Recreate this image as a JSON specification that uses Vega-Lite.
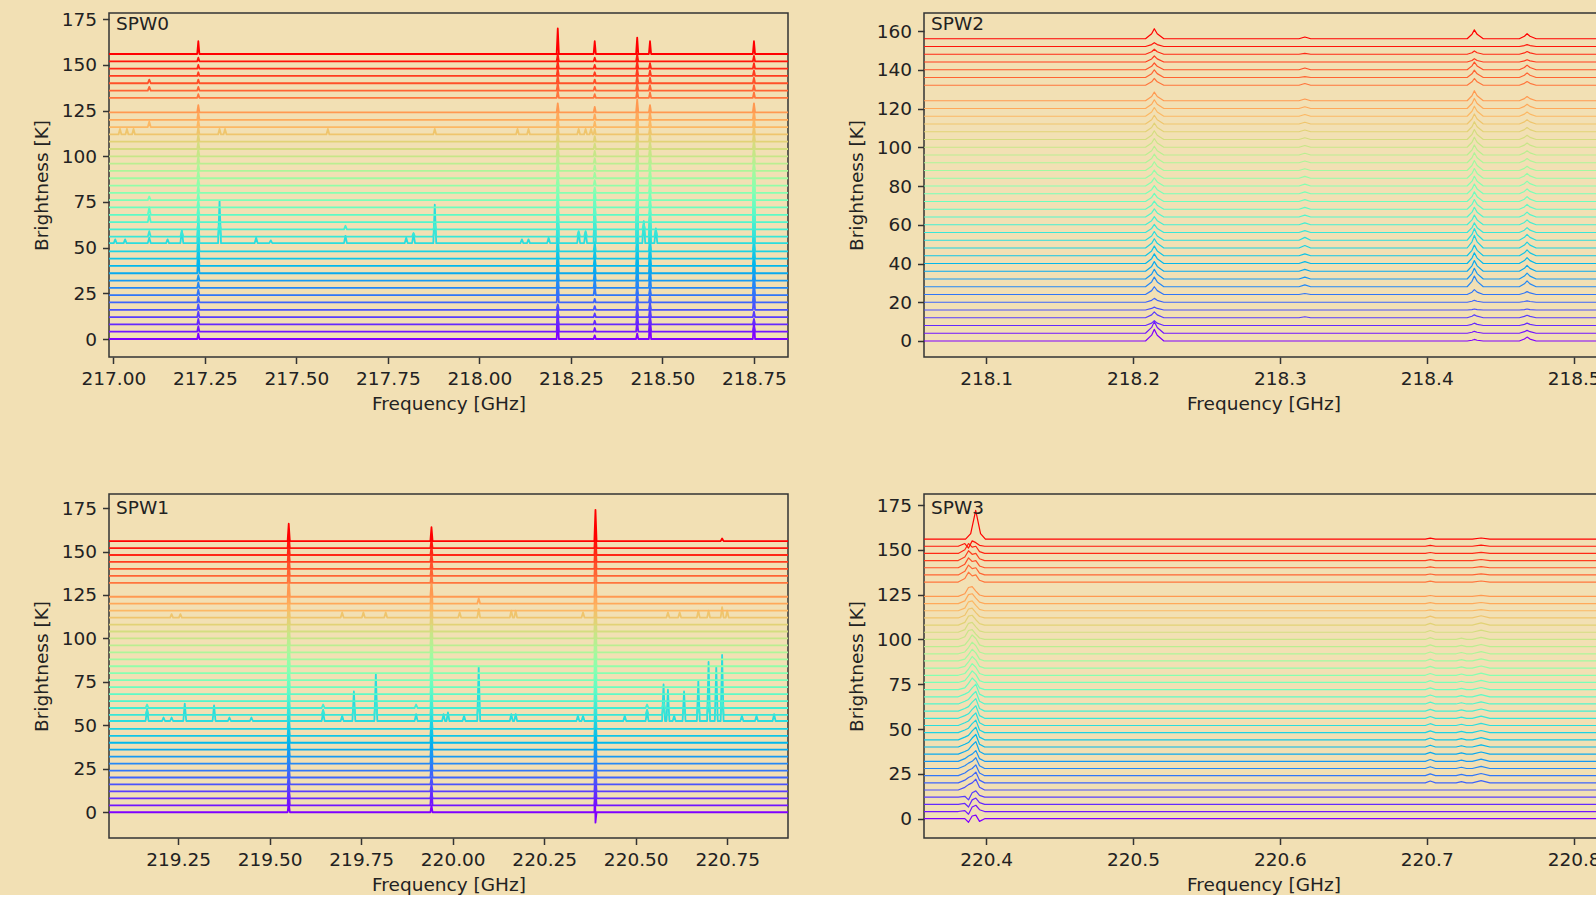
{
"$schema":"https://vega.github.io/schema/vega-lite/v6.json",
"background":"#f2e0b4",
"padding":{"left":31,"top":9,"right":0,"bottom":0},
"config":{
"font":"DejaVu Sans",
"view":{"stroke":"#333333","strokeWidth":1.5},
"axis":{"domain":false,"grid":false,"tickSize":6.5,"tickWidth":1.5,"tickColor":"#333333","labelFont":"DejaVu Sans","labelFontSize":18.5,"labelColor":"#222222","labelPadding":6,"labelOverlap":false,"labelBound":false,"labelFlush":false,"titleFont":"DejaVu Sans","titleFontSize":18.5,"titleFontWeight":"normal","titleColor":"#222222"},
"axisX":{"titlePadding":6},
"axisY":{"titlePadding":10},
"title":{"font":"DejaVu Sans","fontSize":18.5,"fontWeight":"normal","color":"#222222","anchor":"start","frame":"group","baseline":"top","dx":7}
},
"spacing":{"row":79,"column":57},
"columns":2,
"datasets":{
"s0":[
{"f":216.988,"a0":0,"a1":4,"a2":8,"a3":12,"a4":16,"a5":20,"a6":24,"a7":28,"a8":32,"a9":36,"a10":40,"a11":44,"a12":48,"a13":52.5,"a14":56,"a15":60,"a16":64,"a17":68,"a18":72,"a19":76,"a20":80,"a21":84,"a22":88,"a23":92,"a24":96,"a25":100,"a26":104,"a27":108,"a28":112,"a29":116,"a30":120,"a31":124,"a33":132,"a34":136,"a35":140,"a36":144,"a37":148,"a38":152,"a39":156},
{"f":217.229,"a0":0,"a1":4,"a2":8,"a3":12,"a4":16,"a5":20,"a6":24,"a7":28,"a8":32,"a9":36,"a10":40,"a11":44,"a12":48,"a13":52.5,"a14":56,"a15":60,"a16":64,"a17":68,"a18":72,"a19":76,"a20":80,"a21":84,"a22":88,"a23":92,"a24":96,"a25":100,"a26":104,"a27":108,"a28":112,"a29":116,"a30":120,"a31":124,"a33":132,"a34":136,"a35":140,"a36":144,"a37":148,"a38":152,"a39":156},
{"f":217.232,"a0":3,"a1":7,"a2":11,"a3":15,"a4":19,"a5":23,"a6":27,"a7":31,"a8":35,"a9":45,"a10":49,"a11":53,"a12":57,"a13":67.5,"a14":62,"a15":64,"a16":68,"a17":72,"a18":76,"a19":80,"a20":84,"a21":88,"a22":92,"a23":96,"a24":100,"a25":104,"a26":108,"a27":112,"a28":116,"a29":120,"a30":124,"a31":128,"a33":134,"a34":138,"a35":142,"a36":146,"a37":150,"a38":154,"a39":163},
{"f":217.235,"a0":0,"a1":4,"a2":8,"a3":12,"a4":16,"a5":20,"a6":24,"a7":28,"a8":32,"a9":36,"a10":40,"a11":44,"a12":48,"a13":52.5,"a14":56,"a15":60,"a16":64,"a17":68,"a18":72,"a19":76,"a20":80,"a21":84,"a22":88,"a23":92,"a24":96,"a25":100,"a26":104,"a27":108,"a28":112,"a29":116,"a30":120,"a31":124,"a33":132,"a34":136,"a35":140,"a36":144,"a37":148,"a38":152,"a39":156},
{"f":218.211,"a0":0,"a1":4,"a2":8,"a3":12,"a4":16,"a5":20,"a6":24,"a7":28,"a8":32,"a9":36,"a10":40,"a11":44,"a12":48,"a13":52.5,"a14":56,"a15":60,"a16":64,"a17":68,"a18":72,"a19":76,"a20":80,"a21":84,"a22":88,"a23":92,"a24":96,"a25":100,"a26":104,"a27":108,"a28":112,"a29":116,"a30":120,"a31":124,"a33":132,"a34":136,"a35":140,"a36":144,"a37":148,"a38":152,"a39":156},
{"f":218.214,"a0":12,"a1":18,"a2":11,"a3":15,"a4":19,"a5":28,"a6":32,"a7":36,"a8":40,"a9":44,"a10":48,"a11":52,"a12":56,"a13":75.5,"a14":68,"a15":66,"a16":70,"a17":74,"a18":78,"a19":82,"a20":86,"a21":90,"a22":94,"a23":98,"a24":102,"a25":106,"a26":109,"a27":113,"a28":117,"a29":121,"a30":125,"a31":129,"a33":136,"a34":140,"a35":144,"a36":148,"a37":152,"a38":156,"a39":170},
{"f":218.217,"a0":0,"a1":4,"a2":8,"a3":12,"a4":16,"a5":20,"a6":24,"a7":28,"a8":32,"a9":36,"a10":40,"a11":44,"a12":48,"a13":52.5,"a14":56,"a15":60,"a16":64,"a17":68,"a18":72,"a19":76,"a20":80,"a21":84,"a22":88,"a23":92,"a24":96,"a25":100,"a26":104,"a27":108,"a28":112,"a29":116,"a30":120,"a31":124,"a33":132,"a34":136,"a35":140,"a36":144,"a37":148,"a38":152,"a39":156},
{"f":218.312,"a0":0,"a1":4,"a2":8,"a3":12,"a4":16,"a5":20,"a6":24,"a7":28,"a8":32,"a9":36,"a10":40,"a11":44,"a12":48,"a13":52.5,"a14":56,"a15":60,"a16":64,"a17":68,"a18":72,"a19":76,"a20":80,"a21":84,"a22":88,"a23":92,"a24":96,"a25":100,"a26":104,"a27":108,"a28":112,"a29":116,"a30":120,"a31":124,"a33":132,"a34":136,"a35":140,"a36":144,"a37":148,"a38":152,"a39":156},
{"f":218.315,"a0":2,"a1":6,"a2":10,"a3":14,"a4":18,"a5":22,"a6":29,"a7":33,"a8":37,"a9":41,"a10":45,"a11":49,"a12":53,"a13":80.5,"a14":68,"a15":65,"a16":69,"a17":73,"a18":77,"a19":81,"a20":83,"a21":87,"a22":91,"a23":95,"a24":99,"a25":103,"a26":107,"a27":111,"a28":115,"a29":119,"a30":123,"a31":127,"a33":134,"a34":138,"a35":142,"a36":146,"a37":150,"a38":154,"a39":163},
{"f":218.318,"a0":0,"a1":4,"a2":8,"a3":12,"a4":16,"a5":20,"a6":24,"a7":28,"a8":32,"a9":36,"a10":40,"a11":44,"a12":48,"a13":52.5,"a14":56,"a15":60,"a16":64,"a17":68,"a18":72,"a19":76,"a20":80,"a21":84,"a22":88,"a23":92,"a24":96,"a25":100,"a26":104,"a27":108,"a28":112,"a29":116,"a30":120,"a31":124,"a33":132,"a34":136,"a35":140,"a36":144,"a37":148,"a38":152,"a39":156},
{"f":218.428,"a0":0,"a1":4,"a2":8,"a3":12,"a4":16,"a5":20,"a6":24,"a7":28,"a8":32,"a9":36,"a10":40,"a11":44,"a12":48,"a13":52.5,"a14":56,"a15":60,"a16":64,"a17":68,"a18":72,"a19":76,"a20":80,"a21":84,"a22":88,"a23":92,"a24":96,"a25":100,"a26":104,"a27":108,"a28":112,"a29":116,"a30":120,"a31":124,"a33":132,"a34":136,"a35":140,"a36":144,"a37":148,"a38":152,"a39":156},
{"f":218.431,"a0":3,"a1":10,"a2":14,"a3":17,"a4":21,"a5":25,"a6":29,"a7":38,"a8":42,"a9":46,"a10":50,"a11":54,"a12":58,"a13":84.5,"a14":76,"a15":68,"a16":72,"a17":76,"a18":80,"a19":84,"a20":88,"a21":92,"a22":96,"a23":100,"a24":104,"a25":108,"a26":111,"a27":115,"a28":119,"a29":123,"a30":127,"a31":131,"a33":136,"a34":140,"a35":144,"a36":148,"a37":152,"a38":156,"a39":165},
{"f":218.434,"a0":0,"a1":4,"a2":8,"a3":12,"a4":16,"a5":20,"a6":24,"a7":28,"a8":32,"a9":36,"a10":40,"a11":44,"a12":48,"a13":52.5,"a14":56,"a15":60,"a16":64,"a17":68,"a18":72,"a19":76,"a20":80,"a21":84,"a22":88,"a23":92,"a24":96,"a25":100,"a26":104,"a27":108,"a28":112,"a29":116,"a30":120,"a31":124,"a33":132,"a34":136,"a35":140,"a36":144,"a37":148,"a38":152,"a39":156},
{"f":218.463,"a0":0,"a1":4,"a2":8,"a3":12,"a4":16,"a5":20,"a6":24,"a7":28,"a8":32,"a9":36,"a10":40,"a11":44,"a12":48,"a13":52.5,"a14":56,"a15":60,"a16":64,"a17":68,"a18":72,"a19":76,"a20":80,"a21":84,"a22":88,"a23":92,"a24":96,"a25":100,"a26":104,"a27":108,"a28":112,"a29":116,"a30":120,"a31":124,"a33":132,"a34":136,"a35":140,"a36":144,"a37":148,"a38":152,"a39":156},
{"f":218.466,"a0":12,"a1":9,"a2":13,"a3":17,"a4":20,"a5":24,"a6":28,"a7":36,"a8":40,"a9":44,"a10":48,"a11":52,"a12":56,"a13":70.5,"a14":66,"a15":68,"a16":69,"a17":73,"a18":77,"a19":81,"a20":85,"a21":89,"a22":93,"a23":97,"a24":101,"a25":105,"a26":108,"a27":112,"a28":116,"a29":120,"a30":124,"a31":128,"a33":135,"a34":139,"a35":143,"a36":147,"a37":151,"a38":152,"a39":163},
{"f":218.469,"a0":0,"a1":4,"a2":8,"a3":12,"a4":16,"a5":20,"a6":24,"a7":28,"a8":32,"a9":36,"a10":40,"a11":44,"a12":48,"a13":52.5,"a14":56,"a15":60,"a16":64,"a17":68,"a18":72,"a19":76,"a20":80,"a21":84,"a22":88,"a23":92,"a24":96,"a25":100,"a26":104,"a27":108,"a28":112,"a29":116,"a30":120,"a31":124,"a33":132,"a34":136,"a35":140,"a36":144,"a37":148,"a38":152,"a39":156},
{"f":218.747,"a0":0,"a1":4,"a2":8,"a3":12,"a4":16,"a5":20,"a6":24,"a7":28,"a8":32,"a9":36,"a10":40,"a11":44,"a12":48,"a13":52.5,"a14":56,"a15":60,"a16":64,"a17":68,"a18":72,"a19":76,"a20":80,"a21":84,"a22":88,"a23":92,"a24":96,"a25":100,"a26":104,"a27":108,"a28":112,"a29":116,"a30":120,"a31":124,"a33":132,"a34":136,"a35":140,"a36":144,"a37":148,"a38":152,"a39":156},
{"f":218.75,"a0":10,"a1":7,"a2":11,"a3":15,"a4":24,"a5":28,"a6":32,"a7":36,"a8":40,"a9":44,"a10":48,"a11":52,"a12":56,"a13":77.5,"a14":68,"a15":72,"a16":76,"a17":80,"a18":84,"a19":88,"a20":92,"a21":96,"a22":93,"a23":97,"a24":101,"a25":105,"a26":109,"a27":113,"a28":117,"a29":121,"a30":125,"a31":129,"a33":135,"a34":139,"a35":143,"a36":147,"a37":151,"a38":155,"a39":163},
{"f":218.753,"a0":0,"a1":4,"a2":8,"a3":12,"a4":16,"a5":20,"a6":24,"a7":28,"a8":32,"a9":36,"a10":40,"a11":44,"a12":48,"a13":52.5,"a14":56,"a15":60,"a16":64,"a17":68,"a18":72,"a19":76,"a20":80,"a21":84,"a22":88,"a23":92,"a24":96,"a25":100,"a26":104,"a27":108,"a28":112,"a29":116,"a30":120,"a31":124,"a33":132,"a34":136,"a35":140,"a36":144,"a37":148,"a38":152,"a39":156},
{"f":218.843,"a0":0,"a1":4,"a2":8,"a3":12,"a4":16,"a5":20,"a6":24,"a7":28,"a8":32,"a9":36,"a10":40,"a11":44,"a12":48,"a13":52.5,"a14":56,"a15":60,"a16":64,"a17":68,"a18":72,"a19":76,"a20":80,"a21":84,"a22":88,"a23":92,"a24":96,"a25":100,"a26":104,"a27":108,"a28":112,"a29":116,"a30":120,"a31":124,"a33":132,"a34":136,"a35":140,"a36":144,"a37":148,"a38":152,"a39":156},
{"f":217.001,"a13":52.5},{"f":217.005,"a13":54.5},{"f":217.009,"a13":52.5},
{"f":217.014,"a28":112},{"f":217.018,"a28":115},{"f":217.022,"a28":112},
{"f":217.028,"a13":52.5},{"f":217.032,"a13":54.5},{"f":217.036,"a13":52.5},
{"f":217.033,"a28":112},{"f":217.037,"a28":115},{"f":217.041,"a28":112},
{"f":217.051,"a28":112},{"f":217.055,"a28":115},{"f":217.059,"a28":112},
{"f":217.094,"a13":52.5,"a14":56,"a16":64,"a17":68,"a19":76,"a29":116,"a34":136,"a35":140},
{"f":217.098,"a13":55.5,"a14":59,"a16":68,"a17":72,"a19":78,"a29":119,"a34":138,"a35":142},
{"f":217.102,"a13":52.5,"a14":56,"a16":64,"a17":68,"a19":76,"a29":116,"a34":136,"a35":140},
{"f":217.144,"a13":52.5},{"f":217.148,"a13":54.5},{"f":217.152,"a13":52.5},
{"f":217.183,"a13":52.5,"a14":56},{"f":217.187,"a13":59.5,"a14":59},{"f":217.191,"a13":52.5,"a14":56},
{"f":217.286,"a13":52.5,"a14":56,"a15":60,"a28":112},{"f":217.29,"a13":75.5,"a14":62,"a15":63,"a28":115},{"f":217.294,"a13":52.5,"a14":56,"a15":60,"a28":112},
{"f":217.301,"a28":112},{"f":217.305,"a28":115},{"f":217.309,"a28":112},
{"f":217.386,"a13":52.5},{"f":217.39,"a13":55.5},{"f":217.394,"a13":52.5},
{"f":217.426,"a13":52.5},{"f":217.43,"a13":54},{"f":217.434,"a13":52.5},
{"f":217.582,"a28":112},{"f":217.586,"a28":115},{"f":217.59,"a28":112},
{"f":217.63,"a13":52.5,"a15":60},{"f":217.634,"a13":56.5,"a15":62},{"f":217.638,"a13":52.5,"a15":60},
{"f":217.796,"a13":52.5},{"f":217.8,"a13":55.5},{"f":217.804,"a13":52.5},
{"f":217.816,"a13":52.5,"a14":56},{"f":217.82,"a13":57.5,"a14":58},{"f":217.824,"a13":52.5,"a14":56},
{"f":217.874,"a13":52.5,"a14":56,"a15":60,"a28":112},{"f":217.878,"a13":73.5,"a14":61,"a15":63,"a28":115},{"f":217.882,"a13":52.5,"a14":56,"a15":60,"a28":112},
{"f":218.1,"a28":112},{"f":218.104,"a28":115},{"f":218.108,"a28":112},
{"f":218.112,"a13":52.5},{"f":218.116,"a13":54.5},{"f":218.12,"a13":52.5},
{"f":218.13,"a13":52.5,"a28":112},{"f":218.134,"a13":54.5,"a28":115},{"f":218.138,"a13":52.5,"a28":112},
{"f":218.185,"a13":52.5},{"f":218.189,"a13":55.5},{"f":218.193,"a13":52.5},
{"f":218.267,"a13":52.5,"a14":56,"a28":112},{"f":218.271,"a13":58.5,"a14":59,"a28":115},{"f":218.275,"a13":52.5,"a14":56,"a28":112},
{"f":218.286,"a13":52.5,"a14":56,"a28":112},{"f":218.29,"a13":58.5,"a14":59,"a28":115},{"f":218.294,"a13":52.5,"a14":56,"a28":112},
{"f":218.301,"a28":112},{"f":218.305,"a28":115},{"f":218.309,"a28":112},
{"f":218.445,"a13":52.5,"a14":56,"a15":60},{"f":218.449,"a13":64.5,"a14":62,"a15":63},{"f":218.453,"a13":52.5,"a14":56,"a15":60},
{"f":218.478,"a13":52.5,"a14":56},{"f":218.482,"a13":60.5,"a14":60},{"f":218.486,"a13":52.5,"a14":56}
],
"s1":[
{"f":219.061,"a0":0,"a1":4,"a2":8,"a3":12,"a4":16,"a5":20,"a6":24,"a7":28,"a8":32,"a9":36,"a10":40,"a11":44,"a12":48,"a13":52.5,"a14":56,"a15":60,"a16":64,"a17":68,"a18":72,"a19":76,"a20":80,"a21":84,"a22":88,"a23":92,"a24":96,"a25":100,"a26":104,"a27":108,"a28":112,"a29":116,"a30":120,"a31":124,"a33":132,"a34":136,"a35":140,"a36":144,"a37":148,"a38":152,"a39":156},
{"f":219.549,"a0":0,"a1":4,"a2":8,"a3":12,"a4":16,"a5":20,"a6":24,"a7":28,"a8":32,"a9":36,"a10":40,"a11":44,"a12":48,"a13":52.5,"a14":56,"a15":60,"a16":64,"a17":68,"a18":72,"a19":76,"a20":80,"a21":84,"a22":88,"a23":92,"a24":96,"a25":100,"a26":104,"a27":108,"a28":112,"a29":116,"a30":120,"a31":124,"a33":132,"a34":136,"a35":140,"a36":144,"a37":148,"a38":152,"a39":156},
{"f":219.552,"a0":6,"a1":16,"a2":14,"a3":18,"a4":22,"a5":28,"a6":32,"a7":36,"a8":40,"a9":44,"a10":48,"a11":52,"a12":56,"a13":62.5,"a14":66,"a15":70,"a16":74,"a17":78,"a18":82,"a19":86,"a20":90,"a21":94,"a22":98,"a23":102,"a24":106,"a25":110,"a26":114,"a27":118,"a28":122,"a29":126,"a30":130,"a31":136,"a33":140,"a34":144,"a35":148,"a36":152,"a37":156,"a38":160,"a39":166},
{"f":219.555,"a0":0,"a1":4,"a2":8,"a3":12,"a4":16,"a5":20,"a6":24,"a7":28,"a8":32,"a9":36,"a10":40,"a11":44,"a12":48,"a13":52.5,"a14":56,"a15":60,"a16":64,"a17":68,"a18":72,"a19":76,"a20":80,"a21":84,"a22":88,"a23":92,"a24":96,"a25":100,"a26":104,"a27":108,"a28":112,"a29":116,"a30":120,"a31":124,"a33":132,"a34":136,"a35":140,"a36":144,"a37":148,"a38":152,"a39":156},
{"f":219.939,"a0":0,"a1":4,"a2":8,"a3":12,"a4":16,"a5":20,"a6":24,"a7":28,"a8":32,"a9":36,"a10":40,"a11":44,"a12":48,"a13":52.5,"a14":56,"a15":60,"a16":64,"a17":68,"a18":72,"a19":76,"a20":80,"a21":84,"a22":88,"a23":92,"a24":96,"a25":100,"a26":104,"a27":108,"a28":112,"a29":116,"a30":120,"a31":124,"a33":132,"a34":136,"a35":140,"a36":144,"a37":148,"a38":152,"a39":156},
{"f":219.942,"a0":4,"a1":14,"a2":12,"a3":16,"a4":20,"a5":28,"a6":32,"a7":36,"a8":40,"a9":44,"a10":48,"a11":52,"a12":56,"a13":62.5,"a14":65,"a15":69,"a16":73,"a17":77,"a18":81,"a19":85,"a20":89,"a21":93,"a22":97,"a23":101,"a24":105,"a25":109,"a26":113,"a27":117,"a28":121,"a29":125,"a30":129,"a31":133,"a33":137,"a34":141,"a35":145,"a36":149,"a37":153,"a38":157,"a39":164},
{"f":219.945,"a0":0,"a1":4,"a2":8,"a3":12,"a4":16,"a5":20,"a6":24,"a7":28,"a8":32,"a9":36,"a10":40,"a11":44,"a12":48,"a13":52.5,"a14":56,"a15":60,"a16":64,"a17":68,"a18":72,"a19":76,"a20":80,"a21":84,"a22":88,"a23":92,"a24":96,"a25":100,"a26":104,"a27":108,"a28":112,"a29":116,"a30":120,"a31":124,"a33":132,"a34":136,"a35":140,"a36":144,"a37":148,"a38":152,"a39":156},
{"f":220.387,"a0":0,"a1":4,"a2":8,"a3":12,"a4":16,"a5":20,"a6":24,"a7":28,"a8":32,"a9":36,"a10":40,"a11":44,"a12":48,"a13":52.5,"a14":56,"a15":60,"a16":64,"a17":68,"a18":72,"a19":76,"a20":80,"a21":84,"a22":88,"a23":92,"a24":96,"a25":100,"a26":104,"a27":108,"a28":112,"a29":116,"a30":120,"a31":124,"a33":132,"a34":136,"a35":140,"a36":144,"a37":148,"a38":152,"a39":156},
{"f":220.389,"a0":12},
{"f":220.39,"a0":-6,"a1":14,"a2":18,"a3":22,"a4":26,"a5":30,"a6":34,"a7":38,"a8":42,"a9":46,"a10":50,"a11":54,"a12":58,"a13":60.5,"a14":68,"a15":72,"a16":76,"a17":80,"a18":84,"a19":88,"a20":92,"a21":96,"a22":100,"a23":104,"a24":108,"a25":112,"a26":116,"a27":120,"a28":124,"a29":128,"a30":132,"a31":136,"a33":142,"a34":146,"a35":150,"a36":154,"a37":158,"a38":162,"a39":174},
{"f":220.393,"a0":0,"a1":4,"a2":8,"a3":12,"a4":16,"a5":20,"a6":24,"a7":28,"a8":32,"a9":36,"a10":40,"a11":44,"a12":48,"a13":52.5,"a14":56,"a15":60,"a16":64,"a17":68,"a18":72,"a19":76,"a20":80,"a21":84,"a22":88,"a23":92,"a24":96,"a25":100,"a26":104,"a27":108,"a28":112,"a29":116,"a30":120,"a31":124,"a33":132,"a34":136,"a35":140,"a36":144,"a37":148,"a38":152,"a39":156},
{"f":220.916,"a0":0,"a1":4,"a2":8,"a3":12,"a4":16,"a5":20,"a6":24,"a7":28,"a8":32,"a9":36,"a10":40,"a11":44,"a12":48,"a13":52.5,"a14":56,"a15":60,"a16":64,"a17":68,"a18":72,"a19":76,"a20":80,"a21":84,"a22":88,"a23":92,"a24":96,"a25":100,"a26":104,"a27":108,"a28":112,"a29":116,"a30":120,"a31":124,"a33":132,"a34":136,"a35":140,"a36":144,"a37":148,"a38":152,"a39":156},
{"f":219.161,"a13":52.5,"a14":56,"a15":60},{"f":219.165,"a13":59.5,"a14":59,"a15":62},{"f":219.169,"a13":52.5,"a14":56,"a15":60},
{"f":219.206,"a13":52.5},{"f":219.21,"a13":54.5},{"f":219.214,"a13":52.5},
{"f":219.228,"a13":52.5,"a28":112},{"f":219.232,"a13":54.5,"a28":114},{"f":219.236,"a13":52.5,"a28":112},
{"f":219.252,"a28":112},{"f":219.256,"a28":114},{"f":219.26,"a28":112},
{"f":219.264,"a13":52.5},{"f":219.268,"a13":62.5},{"f":219.272,"a13":52.5},
{"f":219.344,"a13":52.5},{"f":219.348,"a13":61.5},{"f":219.352,"a13":52.5},
{"f":219.386,"a13":52.5},{"f":219.39,"a13":54.5},{"f":219.394,"a13":52.5},
{"f":219.446,"a13":52.5},{"f":219.45,"a13":54.5},{"f":219.454,"a13":52.5},
{"f":219.642,"a13":52.5,"a14":56,"a15":60},{"f":219.646,"a13":57.5,"a14":59,"a15":62},{"f":219.65,"a13":52.5,"a14":56,"a15":60},
{"f":219.694,"a13":52.5,"a28":112},{"f":219.698,"a13":55.5,"a28":115},{"f":219.702,"a13":52.5,"a28":112},
{"f":219.726,"a13":52.5,"a14":56},{"f":219.73,"a13":69.5,"a14":61},{"f":219.734,"a13":52.5,"a14":56},
{"f":219.752,"a28":112},{"f":219.756,"a28":115},{"f":219.76,"a28":112},
{"f":219.786,"a13":52.5,"a14":56},{"f":219.79,"a13":79.5,"a14":64},{"f":219.794,"a13":52.5,"a14":56},
{"f":219.813,"a28":112},{"f":219.817,"a28":115},{"f":219.821,"a28":112},
{"f":219.896,"a13":52.5,"a15":60},{"f":219.9,"a13":56.5,"a15":62},{"f":219.904,"a13":52.5,"a15":60},
{"f":219.971,"a13":52.5},{"f":219.975,"a13":56.5},{"f":219.979,"a13":52.5},
{"f":219.983,"a13":52.5},{"f":219.987,"a13":57.5},{"f":219.991,"a13":52.5},
{"f":220.015,"a28":112},{"f":220.019,"a28":115},{"f":220.023,"a28":112},
{"f":220.027,"a13":52.5},{"f":220.031,"a13":55.5},{"f":220.035,"a13":52.5},
{"f":220.067,"a13":52.5,"a14":56,"a28":112,"a30":120},{"f":220.071,"a13":83.5,"a14":62,"a28":117,"a30":123},{"f":220.075,"a13":52.5,"a14":56,"a28":112,"a30":120},
{"f":220.156,"a13":52.5,"a28":112},{"f":220.16,"a13":56.5,"a28":116},{"f":220.164,"a13":52.5,"a28":112},
{"f":220.168,"a13":52.5,"a28":112},{"f":220.172,"a13":56.5,"a28":116},{"f":220.176,"a13":52.5,"a28":112},
{"f":220.338,"a13":52.5},{"f":220.342,"a13":55.5},{"f":220.346,"a13":52.5},
{"f":220.352,"a13":52.5,"a28":112},{"f":220.356,"a13":55.5,"a28":115},{"f":220.36,"a13":52.5,"a28":112},
{"f":220.466,"a13":52.5},{"f":220.47,"a13":55.5},{"f":220.474,"a13":52.5},
{"f":220.527,"a13":52.5,"a14":56,"a15":60},{"f":220.531,"a13":58.5,"a14":59,"a15":62},{"f":220.535,"a13":52.5,"a14":56,"a15":60},
{"f":220.572,"a13":52.5,"a14":56,"a15":60},{"f":220.576,"a13":73.5,"a14":61,"a15":63},{"f":220.58,"a13":52.5,"a14":56,"a15":60},
{"f":220.584,"a13":52.5,"a28":112},{"f":220.588,"a13":70.5,"a28":115},{"f":220.592,"a13":52.5,"a28":112},
{"f":220.601,"a13":52.5},{"f":220.605,"a13":55.5},{"f":220.609,"a13":52.5},
{"f":220.616,"a28":112},{"f":220.62,"a28":115},{"f":220.624,"a28":112},
{"f":220.628,"a13":52.5,"a14":56},{"f":220.632,"a13":69.5,"a14":60},{"f":220.636,"a13":52.5,"a14":56},
{"f":220.667,"a13":52.5,"a14":56,"a28":112},{"f":220.671,"a13":75.5,"a14":61,"a28":116},{"f":220.675,"a13":52.5,"a14":56,"a28":112},
{"f":220.695,"a13":52.5,"a14":56,"a15":60,"a28":112},{"f":220.699,"a13":86.5,"a14":62,"a15":63,"a28":116},{"f":220.703,"a13":52.5,"a14":56,"a15":60,"a28":112},
{"f":220.716,"a13":52.5},{"f":220.72,"a13":83.5},{"f":220.724,"a13":52.5},
{"f":220.732,"a13":52.5,"a14":56,"a15":60,"a28":112,"a39":156},{"f":220.736,"a13":90.5,"a14":64,"a15":64,"a28":118,"a39":157.5},{"f":220.74,"a13":52.5,"a14":56,"a15":60,"a28":112,"a39":156},
{"f":220.746,"a28":112},{"f":220.75,"a28":116},{"f":220.754,"a28":112},
{"f":220.786,"a13":52.5},{"f":220.79,"a13":55.5},{"f":220.794,"a13":52.5},
{"f":220.826,"a13":52.5},{"f":220.83,"a13":55.5},{"f":220.834,"a13":52.5},
{"f":220.874,"a13":52.5},{"f":220.878,"a13":56.5},{"f":220.882,"a13":52.5}
],
"s2":[
{"f":218.0577,"a0":0,"a1":4,"a2":8,"a3":12,"a4":16,"a5":20,"a6":24,"a7":28,"a8":32,"a9":36,"a10":40,"a11":44,"a12":48,"a13":52,"a14":56,"a15":60,"a16":64,"a17":68,"a18":72,"a19":76,"a20":80,"a21":84,"a22":88,"a23":92,"a24":96,"a25":100,"a26":104,"a27":108,"a28":112,"a29":116,"a30":120,"a31":124,"a33":132,"a34":136,"a35":140,"a36":144,"a37":148,"a38":152,"a39":156},
{"f":218.2085,"a0":0,"a1":4,"a2":8,"a3":12,"a4":16,"a5":20,"a6":24,"a7":28,"a8":32,"a9":36,"a10":40,"a11":44,"a12":48,"a13":52,"a14":56,"a15":60,"a16":64,"a17":68,"a18":72,"a19":76,"a20":80,"a21":84,"a22":88,"a23":92,"a24":96,"a25":100,"a26":104,"a27":108,"a28":112,"a29":116,"a30":120,"a31":124,"a33":132,"a34":136,"a35":140,"a36":144,"a37":148,"a38":152,"a39":156},
{"f":218.2127,"a0":3,"a1":7,"a2":9.2,"a3":13.5,"a4":16.8,"a5":21,"a6":26,"a7":30.5,"a8":34.5,"a9":38.5,"a10":42.5,"a11":46.5,"a12":50.4,"a13":54.2,"a14":58.1,"a15":62.1,"a16":66.1,"a17":70.1,"a18":74.1,"a19":78.1,"a20":82.1,"a21":86.1,"a22":90.2,"a23":94.2,"a24":98.2,"a25":102.2,"a26":106.2,"a27":110.2,"a28":114.2,"a29":118.2,"a30":122.2,"a31":126.2,"a33":133.8,"a34":138,"a35":141.8,"a36":145.6,"a37":149.3,"a38":153,"a39":158.6},
{"f":218.2145,"a0":6,"a1":10,"a2":10.5,"a3":15,"a4":17.5,"a5":22,"a6":28,"a7":33,"a8":37,"a9":41,"a10":45,"a11":49,"a12":52.8,"a13":56.5,"a14":60.2,"a15":64.2,"a16":68.2,"a17":72.2,"a18":76.2,"a19":80.2,"a20":84.2,"a21":88.2,"a22":92.5,"a23":96.5,"a24":100.5,"a25":104.5,"a26":108.5,"a27":112.5,"a28":116.5,"a29":120.5,"a30":124.5,"a31":128.5,"a33":135.5,"a34":140,"a35":143.5,"a36":147.1,"a37":150.6,"a38":154,"a39":161.2},
{"f":218.2165,"a0":3,"a1":7,"a2":9.2,"a3":13.5,"a4":16.8,"a5":21,"a6":26,"a7":30.5,"a8":34.5,"a9":38.5,"a10":42.5,"a11":46.5,"a12":50.4,"a13":54.2,"a14":58.1,"a15":62.1,"a16":66.1,"a17":70.1,"a18":74.1,"a19":78.1,"a20":82.1,"a21":86.1,"a22":90.2,"a23":94.2,"a24":98.2,"a25":102.2,"a26":106.2,"a27":110.2,"a28":114.2,"a29":118.2,"a30":122.2,"a31":126.2,"a33":133.8,"a34":138,"a35":141.8,"a36":145.6,"a37":149.3,"a38":153,"a39":158.6},
{"f":218.221,"a0":0,"a1":4,"a2":8,"a3":12,"a4":16,"a5":20,"a6":24,"a7":28,"a8":32,"a9":36,"a10":40,"a11":44,"a12":48,"a13":52,"a14":56,"a15":60,"a16":64,"a17":68,"a18":72,"a19":76,"a20":80,"a21":84,"a22":88,"a23":92,"a24":96,"a25":100,"a26":104,"a27":108,"a28":112,"a29":116,"a30":120,"a31":124,"a33":132,"a34":136,"a35":140,"a36":144,"a37":148,"a38":152,"a39":156},
{"f":218.313,"a0":0,"a1":4,"a2":8,"a3":12,"a4":16,"a5":20,"a6":24,"a7":28,"a8":32,"a9":36,"a10":40,"a11":44,"a12":48,"a13":52,"a14":56,"a15":60,"a16":64,"a17":68,"a18":72,"a19":76,"a20":80,"a21":84,"a22":88,"a23":92,"a24":96,"a25":100,"a26":104,"a27":108,"a28":112,"a29":116,"a30":120,"a31":124,"a33":132,"a34":136,"a35":140,"a36":144,"a37":148,"a38":152,"a39":156},
{"f":218.317,"a0":0,"a1":4,"a2":8,"a3":12.5,"a4":16,"a5":20,"a6":24.5,"a7":29,"a8":33,"a9":37,"a10":41,"a11":45,"a12":49.3,"a13":53.5,"a14":57,"a15":61,"a16":65,"a17":69,"a18":73,"a19":77,"a20":81,"a21":85,"a22":88.9,"a23":92.9,"a24":96.9,"a25":100.9,"a26":104.9,"a27":108.9,"a28":112.9,"a29":116.9,"a30":120.9,"a31":124.9,"a33":132.9,"a34":136.5,"a35":140.9,"a36":144,"a37":148.5,"a38":152,"a39":156.9},
{"f":218.321,"a0":0,"a1":4,"a2":8,"a3":12,"a4":16,"a5":20,"a6":24,"a7":28,"a8":32,"a9":36,"a10":40,"a11":44,"a12":48,"a13":52,"a14":56,"a15":60,"a16":64,"a17":68,"a18":72,"a19":76,"a20":80,"a21":84,"a22":88,"a23":92,"a24":96,"a25":100,"a26":104,"a27":108,"a28":112,"a29":116,"a30":120,"a31":124,"a33":132,"a34":136,"a35":140,"a36":144,"a37":148,"a38":152,"a39":156},
{"f":218.4275,"a0":0,"a1":4,"a2":8,"a3":12,"a4":16,"a5":20,"a6":24,"a7":28,"a8":32,"a9":36,"a10":40,"a11":44,"a12":48,"a13":52,"a14":56,"a15":60,"a16":64,"a17":68,"a18":72,"a19":76,"a20":80,"a21":84,"a22":88,"a23":92,"a24":96,"a25":100,"a26":104,"a27":108,"a28":112,"a29":116,"a30":120,"a31":124,"a33":132,"a34":136,"a35":140,"a36":144,"a37":148,"a38":152,"a39":156},
{"f":218.4308,"a0":0.4,"a1":4.5,"a2":8.6,"a3":12.8,"a4":16.2,"a5":20.5,"a6":25.2,"a7":30.8,"a8":34.8,"a9":38.8,"a10":42.8,"a11":46.8,"a12":51.2,"a13":55,"a14":58.5,"a15":62.5,"a16":66.5,"a17":70.5,"a18":74.5,"a19":78.5,"a20":82.5,"a21":86.5,"a22":90.6,"a23":94.6,"a24":98.6,"a25":102.6,"a26":106.6,"a27":110.6,"a28":114.6,"a29":118.6,"a30":122.6,"a31":126.6,"a33":133.8,"a34":137.9,"a35":142,"a36":144.8,"a37":148.8,"a38":152,"a39":158.3},
{"f":218.4324,"a0":0.8,"a1":5,"a2":9.2,"a3":13.5,"a4":16.5,"a5":21,"a6":26.5,"a7":33.5,"a8":37.5,"a9":41.5,"a10":45.5,"a11":49.5,"a12":54.5,"a13":58,"a14":61,"a15":65,"a16":69,"a17":73,"a18":77,"a19":81,"a20":85,"a21":89,"a22":93.2,"a23":97.2,"a24":101.2,"a25":105.2,"a26":109.2,"a27":113.2,"a28":117.2,"a29":121.2,"a30":125.2,"a31":129.2,"a33":135.5,"a34":139.8,"a35":144,"a36":145.7,"a37":149.7,"a38":152,"a39":160.6},
{"f":218.4343,"a0":0.4,"a1":4.5,"a2":8.6,"a3":12.8,"a4":16.2,"a5":20.5,"a6":25.2,"a7":30.8,"a8":34.8,"a9":38.8,"a10":42.8,"a11":46.8,"a12":51.2,"a13":55,"a14":58.5,"a15":62.5,"a16":66.5,"a17":70.5,"a18":74.5,"a19":78.5,"a20":82.5,"a21":86.5,"a22":90.6,"a23":94.6,"a24":98.6,"a25":102.6,"a26":106.6,"a27":110.6,"a28":114.6,"a29":118.6,"a30":122.6,"a31":126.6,"a33":133.8,"a34":137.9,"a35":142,"a36":144.8,"a37":148.8,"a38":152,"a39":158.3},
{"f":218.4385,"a0":0,"a1":4,"a2":8,"a3":12,"a4":16,"a5":20,"a6":24,"a7":28,"a8":32,"a9":36,"a10":40,"a11":44,"a12":48,"a13":52,"a14":56,"a15":60,"a16":64,"a17":68,"a18":72,"a19":76,"a20":80,"a21":84,"a22":88,"a23":92,"a24":96,"a25":100,"a26":104,"a27":108,"a28":112,"a29":116,"a30":120,"a31":124,"a33":132,"a34":136,"a35":140,"a36":144,"a37":148,"a38":152,"a39":156},
{"f":218.463,"a0":0,"a1":4,"a2":8,"a3":12,"a4":16,"a5":20,"a6":24,"a7":28,"a8":32,"a9":36,"a10":40,"a11":44,"a12":48,"a13":52,"a14":56,"a15":60,"a16":64,"a17":68,"a18":72,"a19":76,"a20":80,"a21":84,"a22":88,"a23":92,"a24":96,"a25":100,"a26":104,"a27":108,"a28":112,"a29":116,"a30":120,"a31":124,"a33":132,"a34":136,"a35":140,"a36":144,"a37":148,"a38":152,"a39":156},
{"f":218.4665,"a0":1,"a1":4.8,"a2":8.6,"a3":12.7,"a4":16.2,"a5":20.4,"a6":24.8,"a7":29.5,"a8":33.5,"a9":37.5,"a10":41.5,"a11":45.5,"a12":49.5,"a13":53.5,"a14":57.2,"a15":61.2,"a16":65.2,"a17":69.2,"a18":73.2,"a19":77.2,"a20":81.2,"a21":85.2,"a22":89.1,"a23":93.1,"a24":97.1,"a25":101.1,"a26":105.1,"a27":109.1,"a28":113.1,"a29":117.1,"a30":121.1,"a31":125.1,"a33":133,"a34":137.2,"a35":141.2,"a36":144.6,"a37":148.7,"a38":152.5,"a39":157.3},
{"f":218.4683,"a0":2,"a1":5.5,"a2":9.2,"a3":13.3,"a4":16.5,"a5":20.7,"a6":25.5,"a7":31,"a8":35,"a9":39,"a10":43,"a11":47,"a12":51,"a13":55,"a14":58.5,"a15":62.5,"a16":66.5,"a17":70.5,"a18":74.5,"a19":78.5,"a20":82.5,"a21":86.5,"a22":90.2,"a23":94.2,"a24":98.2,"a25":102.2,"a26":106.2,"a27":110.2,"a28":114.2,"a29":118.2,"a30":122.2,"a31":126.2,"a33":133.9,"a34":138.4,"a35":142.4,"a36":145.2,"a37":149.4,"a38":153,"a39":158.6},
{"f":218.4703,"a0":1,"a1":4.8,"a2":8.6,"a3":12.7,"a4":16.2,"a5":20.4,"a6":24.8,"a7":29.5,"a8":33.5,"a9":37.5,"a10":41.5,"a11":45.5,"a12":49.5,"a13":53.5,"a14":57.2,"a15":61.2,"a16":65.2,"a17":69.2,"a18":73.2,"a19":77.2,"a20":81.2,"a21":85.2,"a22":89.1,"a23":93.1,"a24":97.1,"a25":101.1,"a26":105.1,"a27":109.1,"a28":113.1,"a29":117.1,"a30":121.1,"a31":125.1,"a33":133,"a34":137.2,"a35":141.2,"a36":144.6,"a37":148.7,"a38":152.5,"a39":157.3},
{"f":218.4745,"a0":0,"a1":4,"a2":8,"a3":12,"a4":16,"a5":20,"a6":24,"a7":28,"a8":32,"a9":36,"a10":40,"a11":44,"a12":48,"a13":52,"a14":56,"a15":60,"a16":64,"a17":68,"a18":72,"a19":76,"a20":80,"a21":84,"a22":88,"a23":92,"a24":96,"a25":100,"a26":104,"a27":108,"a28":112,"a29":116,"a30":120,"a31":124,"a33":132,"a34":136,"a35":140,"a36":144,"a37":148,"a38":152,"a39":156},
{"f":218.52,"a0":0,"a1":4,"a2":8,"a3":12,"a4":16,"a5":20,"a6":24,"a7":28,"a8":32,"a9":36,"a10":40,"a11":44,"a12":48,"a13":52,"a14":56,"a15":60,"a16":64,"a17":68,"a18":72,"a19":76,"a20":80,"a21":84,"a22":88,"a23":92,"a24":96,"a25":100,"a26":104,"a27":108,"a28":112,"a29":116,"a30":120,"a31":124,"a33":132,"a34":136,"a35":140,"a36":144,"a37":148,"a38":152,"a39":156}
],
"s3":[
{"f":220.3577,"a0":0,"a1":4,"a2":8,"a3":12,"a4":16,"a5":20,"a6":24,"a7":28,"a8":32,"a9":36,"a10":40,"a11":44,"a12":48,"a13":52,"a14":56,"a15":60,"a16":64,"a17":68,"a18":72,"a19":76,"a20":80,"a21":84,"a22":88,"a23":92,"a24":96,"a25":100,"a26":104,"a27":108,"a28":112,"a29":116,"a30":120,"a31":124,"a33":132,"a34":136,"a35":140,"a36":144,"a37":148,"a38":152,"a39":156},
{"f":220.381,"a0":0,"a1":4,"a2":8,"a3":12,"a4":16,"a5":20,"a6":24,"a7":28,"a8":32,"a9":36,"a10":40,"a11":44,"a12":48,"a13":52,"a14":56,"a15":60,"a16":64,"a17":68,"a18":72,"a19":76,"a20":80,"a21":84,"a22":88,"a23":92,"a24":96,"a25":100,"a26":104,"a27":108,"a28":112,"a29":116,"a30":120,"a31":124,"a33":132,"a34":136,"a35":140,"a36":144,"a37":148,"a38":152,"a39":156},
{"f":220.3855,"a0":0,"a1":4.5,"a2":8.5,"a3":12.5,"a4":17.5,"a5":21.5,"a6":25.5,"a7":29.5,"a8":33.5,"a9":37.5,"a10":41.5,"a11":45.5,"a12":49.5,"a13":53.5,"a14":57.5,"a15":61.5,"a16":65.5,"a17":69.5,"a18":73,"a19":77,"a20":81,"a21":85,"a22":89,"a23":93,"a24":97,"a25":101.5,"a26":105.5,"a27":109.5,"a28":113.5,"a29":117.5,"a30":121.5,"a31":125.5,"a33":134,"a34":138,"a35":142,"a36":146,"a37":150,"a38":153.5},
{"f":220.388,"a0":-2,"a1":2.5,"a2":6.5,"a3":10.5,"a4":19,"a5":23,"a6":27,"a7":31,"a8":35,"a9":38.5,"a10":42.5,"a11":46.5,"a12":50.5,"a13":54.5,"a14":58.5,"a15":62.5,"a16":66.5,"a17":70.5,"a18":75.5,"a19":79.5,"a20":83.5,"a21":87.5,"a22":91.5,"a23":95.5,"a24":99.5,"a25":105,"a26":109,"a27":113,"a28":117,"a29":121,"a30":125,"a31":129,"a33":137.5,"a34":141.5,"a35":145.5,"a36":149.5,"a37":153.5,"a38":151},
{"f":220.3905,"a0":1.5,"a1":6.5,"a2":10.5,"a3":14.5,"a4":20,"a5":24,"a6":28,"a7":32,"a8":36,"a9":41,"a10":45,"a11":49,"a12":53,"a13":57,"a14":61,"a15":65,"a16":69,"a17":73,"a18":78.5,"a19":82.5,"a20":86.5,"a21":90.5,"a22":94.5,"a23":98.5,"a24":102.5,"a25":105.5,"a26":109.5,"a27":113.5,"a28":117.5,"a29":121.5,"a30":125.5,"a31":129.5,"a33":135.5,"a34":139.5,"a35":143.5,"a36":147.5,"a37":151.5,"a38":155},
{"f":220.393,"a0":2,"a1":7.5,"a2":11.5,"a3":15.5,"a4":22,"a5":26,"a6":30,"a7":34,"a8":38,"a9":43,"a10":47,"a11":51,"a12":55,"a13":59,"a14":63,"a15":67,"a16":71,"a17":75,"a18":76.5,"a19":80.5,"a20":84.5,"a21":88.5,"a22":92.5,"a23":96.5,"a24":100.5,"a25":103,"a26":107,"a27":111,"a28":115,"a29":119,"a30":123,"a31":127,"a33":136,"a34":140,"a35":144,"a36":148,"a37":152,"a38":154},
{"f":220.3955,"a0":-1.5,"a1":5,"a2":9,"a3":13,"a4":17.5,"a5":21.5,"a6":25.5,"a7":29.5,"a8":33.5,"a9":37.5,"a10":41.5,"a11":45.5,"a12":49.5,"a13":53.5,"a14":57.5,"a15":61.5,"a16":65.5,"a17":69.5,"a18":73,"a19":77,"a20":81,"a21":85,"a22":89,"a23":93,"a24":97,"a25":100.8,"a26":104.8,"a27":108.8,"a28":112.8,"a29":116.8,"a30":120.8,"a31":124.8,"a33":133,"a34":137,"a35":141,"a36":145,"a37":149,"a38":152.5},
{"f":220.386,"a39":156},{"f":220.3895,"a39":159},{"f":220.3929,"a39":172},{"f":220.3962,"a39":159},{"f":220.3995,"a39":156},
{"f":220.399,"a0":0,"a1":4,"a2":8,"a3":12,"a4":16,"a5":20,"a6":24,"a7":28,"a8":32,"a9":36,"a10":40,"a11":44,"a12":48,"a13":52,"a14":56,"a15":60,"a16":64,"a17":68,"a18":72,"a19":76,"a20":80,"a21":84,"a22":88,"a23":92,"a24":96,"a25":100,"a26":104,"a27":108,"a28":112,"a29":116,"a30":120,"a31":124,"a33":132,"a34":136,"a35":140,"a36":144,"a37":148,"a38":152},
{"f":220.699,"a5":20,"a6":24,"a7":28,"a8":32,"a9":36,"a10":40,"a11":44,"a12":48,"a13":52,"a14":56,"a15":60,"a16":64,"a17":68,"a18":72,"a19":76,"a20":80,"a21":84,"a22":88,"a23":92,"a24":96,"a25":100,"a26":104,"a27":108,"a28":112,"a29":116,"a30":120,"a31":124,"a33":132,"a34":136,"a35":140,"a36":144,"a37":148,"a38":152,"a39":156},
{"f":220.7024,"a5":21,"a6":25,"a7":29,"a8":33,"a9":37,"a10":41,"a11":45,"a12":49,"a13":53,"a14":57,"a15":61,"a16":65,"a17":69,"a18":73,"a19":77,"a20":81,"a21":85,"a22":89,"a23":93,"a24":97,"a25":101,"a26":105,"a27":109,"a28":113,"a29":116.5,"a30":120.5,"a31":124.5,"a33":132.5,"a34":136.5,"a35":140.5,"a36":144.5,"a37":148.5,"a38":152.5,"a39":156.5},
{"f":220.706,"a5":20,"a6":24,"a7":28,"a8":32,"a9":36,"a10":40,"a11":44,"a12":48,"a13":52,"a14":56,"a15":60,"a16":64,"a17":68,"a18":72,"a19":76,"a20":80,"a21":84,"a22":88,"a23":92,"a24":96,"a25":100,"a26":104,"a27":108,"a28":112,"a29":116,"a30":120,"a31":124,"a33":132,"a34":136,"a35":140,"a36":144,"a37":148,"a38":152,"a39":156},
{"f":220.72,"a5":20,"a6":24,"a7":28,"a8":32,"a9":36,"a10":40,"a11":44,"a12":48,"a13":52,"a14":56,"a15":60,"a16":64,"a17":68,"a18":72,"a19":76,"a20":80,"a21":84,"a22":88,"a23":92,"a24":96,"a25":100},
{"f":220.7236,"a5":20.7,"a6":24.7,"a7":28.7,"a8":32.7,"a9":36.7,"a10":40.7,"a11":44.7,"a12":48.7,"a13":52.7,"a14":56.7,"a15":60.7,"a16":64.7,"a17":68.7,"a18":72.7,"a19":76.7,"a20":80.7,"a21":84.7,"a22":88.7,"a23":92.7,"a24":96.7,"a25":100.7},
{"f":220.727,"a5":20,"a6":24,"a7":28,"a8":32,"a9":36,"a10":40,"a11":44,"a12":48,"a13":52,"a14":56,"a15":60,"a16":64,"a17":68,"a18":72,"a19":76,"a20":80,"a21":84,"a22":88,"a23":92,"a24":96,"a25":100},
{"f":220.731,"a5":20,"a6":24,"a7":28,"a8":32,"a9":36,"a10":40,"a11":44,"a12":48,"a13":52,"a14":56,"a15":60,"a16":64,"a17":68,"a18":72,"a19":76,"a20":80,"a21":84,"a22":88,"a23":92,"a24":96,"a25":100,"a26":104,"a27":108,"a28":112,"a29":116,"a30":120,"a31":124,"a33":132,"a34":136,"a35":140,"a36":144,"a37":148,"a38":152,"a39":156},
{"f":220.737,"a5":21.2,"a6":25.2,"a7":29.2,"a8":33.2,"a9":37.2,"a10":41.2,"a11":45.2,"a12":49.2,"a13":53.2,"a14":57.2,"a15":61.2,"a16":65.2,"a17":69.2,"a18":73.2,"a19":77.2,"a20":81.2,"a21":85.2,"a22":89.2,"a23":93.2,"a24":97.2,"a25":101.2,"a26":105.2,"a27":109.2,"a28":113.2,"a29":116.6,"a30":120.6,"a31":124.6,"a33":132.6,"a34":136.6,"a35":140.6,"a36":144.6,"a37":148.6,"a38":152.6,"a39":156.6},
{"f":220.743,"a5":20,"a6":24,"a7":28,"a8":32,"a9":36,"a10":40,"a11":44,"a12":48,"a13":52,"a14":56,"a15":60,"a16":64,"a17":68,"a18":72,"a19":76,"a20":80,"a21":84,"a22":88,"a23":92,"a24":96,"a25":100,"a26":104,"a27":108,"a28":112,"a29":116,"a30":120,"a31":124,"a33":132,"a34":136,"a35":140,"a36":144,"a37":148,"a38":152,"a39":156},
{"f":220.82,"a0":0,"a1":4,"a2":8,"a3":12,"a4":16,"a5":20,"a6":24,"a7":28,"a8":32,"a9":36,"a10":40,"a11":44,"a12":48,"a13":52,"a14":56,"a15":60,"a16":64,"a17":68,"a18":72,"a19":76,"a20":80,"a21":84,"a22":88,"a23":92,"a24":96,"a25":100,"a26":104,"a27":108,"a28":112,"a29":116,"a30":120,"a31":124,"a33":132,"a34":136,"a35":140,"a36":144,"a37":148,"a38":152,"a39":156}
]
},
"concat":[
{"title":{"text":"SPW0","offset":-23.5},"width":679,"height":344,"data":{"name":"s0"},
"transform":[{"fold":["a0","a1","a2","a3","a4","a5","a6","a7","a8","a9","a10","a11","a12","a13","a14","a15","a16","a17","a18","a19","a20","a21","a22","a23","a24","a25","a26","a27","a28","a29","a30","a31","a33","a34","a35","a36","a37","a38","a39"]},{"filter":"isValid(datum.value)"}],
"mark":{"type":"line","strokeWidth":1.8,"clip":true,"strokeJoin":"round"},
"encoding":{
"x":{"field":"f","type":"quantitative","scale":{"domain":[216.988,218.843],"nice":false,"zero":false},"axis":{"title":"Frequency [GHz]","values":[217,217.25,217.5,217.75,218,218.25,218.5,218.75],"format":".2f"}},
"y":{"field":"value","type":"quantitative","scale":{"domain":[-9.85,178.45],"nice":false,"zero":false},"axis":{"title":"Brightness [K]","values":[0,25,50,75,100,125,150,175]}},
"color":{"field":"key","type":"nominal","scale":{"domain":["a0","a1","a2","a3","a4","a5","a6","a7","a8","a9","a10","a11","a12","a13","a14","a15","a16","a17","a18","a19","a20","a21","a22","a23","a24","a25","a26","a27","a28","a29","a30","a31","a33","a34","a35","a36","a37","a38","a39"],"range":["#8000ff","#7215ff","#6529fe","#583dfd","#4b51fc","#3e64fa","#3176f8","#2488f5","#1799f2","#0aa9ee","#03b8eb","#10c5e6","#1dd2e2","#2bdddd","#38e6d8","#45eed2","#52f5cc","#5ffac6","#6cfdbf","#79ffb8","#86ffb1","#93fda9","#a0faa1","#adf599","#baee91","#c7e688","#d4dd80","#e2d276","#efc56d","#fcb864","#ffa95a","#ff9951","#ff763d","#ff6433","#ff5129","#ff3d1f","#ff2915","#ff150a","#ff0000"]},"legend":null}}},
{"title":{"text":"SPW2","offset":-20.5},"width":679,"height":344,"data":{"name":"s2"},
"transform":[{"fold":["a0","a1","a2","a3","a4","a5","a6","a7","a8","a9","a10","a11","a12","a13","a14","a15","a16","a17","a18","a19","a20","a21","a22","a23","a24","a25","a26","a27","a28","a29","a30","a31","a33","a34","a35","a36","a37","a38","a39"]},{"filter":"isValid(datum.value)"}],
"mark":{"type":"line","strokeWidth":1.2,"clip":true,"strokeJoin":"round"},
"encoding":{
"x":{"field":"f","type":"quantitative","scale":{"domain":[218.0577,218.52],"nice":false,"zero":false},"axis":{"title":"Frequency [GHz]","values":[218.1,218.2,218.3,218.4,218.5],"format":".1f"}},
"y":{"field":"value","type":"quantitative","scale":{"domain":[-8.26,169.3],"nice":false,"zero":false},"axis":{"title":"Brightness [K]","values":[0,20,40,60,80,100,120,140,160]}},
"color":{"field":"key","type":"nominal","scale":{"domain":["a0","a1","a2","a3","a4","a5","a6","a7","a8","a9","a10","a11","a12","a13","a14","a15","a16","a17","a18","a19","a20","a21","a22","a23","a24","a25","a26","a27","a28","a29","a30","a31","a33","a34","a35","a36","a37","a38","a39"],"range":["#8000ff","#7215ff","#6529fe","#583dfd","#4b51fc","#3e64fa","#3176f8","#2488f5","#1799f2","#0aa9ee","#03b8eb","#10c5e6","#1dd2e2","#2bdddd","#38e6d8","#45eed2","#52f5cc","#5ffac6","#6cfdbf","#79ffb8","#86ffb1","#93fda9","#a0faa1","#adf599","#baee91","#c7e688","#d4dd80","#e2d276","#efc56d","#fcb864","#ffa95a","#ff9951","#ff763d","#ff6433","#ff5129","#ff3d1f","#ff2915","#ff150a","#ff0000"]},"legend":null}}},
{"title":{"text":"SPW1","offset":-23.5},"width":679,"height":344,"data":{"name":"s1"},
"transform":[{"fold":["a0","a1","a2","a3","a4","a5","a6","a7","a8","a9","a10","a11","a12","a13","a14","a15","a16","a17","a18","a19","a20","a21","a22","a23","a24","a25","a26","a27","a28","a29","a30","a31","a33","a34","a35","a36","a37","a38","a39"]},{"filter":"isValid(datum.value)"}],
"mark":{"type":"line","strokeWidth":1.8,"clip":true,"strokeJoin":"round"},
"encoding":{
"x":{"field":"f","type":"quantitative","scale":{"domain":[219.061,220.916],"nice":false,"zero":false},"axis":{"title":"Frequency [GHz]","values":[219.25,219.5,219.75,220,220.25,220.5,220.75],"format":".2f"}},
"y":{"field":"value","type":"quantitative","scale":{"domain":[-14.8,183.1],"nice":false,"zero":false},"axis":{"title":"Brightness [K]","values":[0,25,50,75,100,125,150,175]}},
"color":{"field":"key","type":"nominal","scale":{"domain":["a0","a1","a2","a3","a4","a5","a6","a7","a8","a9","a10","a11","a12","a13","a14","a15","a16","a17","a18","a19","a20","a21","a22","a23","a24","a25","a26","a27","a28","a29","a30","a31","a33","a34","a35","a36","a37","a38","a39"],"range":["#8000ff","#7215ff","#6529fe","#583dfd","#4b51fc","#3e64fa","#3176f8","#2488f5","#1799f2","#0aa9ee","#03b8eb","#10c5e6","#1dd2e2","#2bdddd","#38e6d8","#45eed2","#52f5cc","#5ffac6","#6cfdbf","#79ffb8","#86ffb1","#93fda9","#a0faa1","#adf599","#baee91","#c7e688","#d4dd80","#e2d276","#efc56d","#fcb864","#ffa95a","#ff9951","#ff763d","#ff6433","#ff5129","#ff3d1f","#ff2915","#ff150a","#ff0000"]},"legend":null}}},
{"title":{"text":"SPW3","offset":-23.5},"width":679,"height":344,"data":{"name":"s3"},
"transform":[{"fold":["a0","a1","a2","a3","a4","a5","a6","a7","a8","a9","a10","a11","a12","a13","a14","a15","a16","a17","a18","a19","a20","a21","a22","a23","a24","a25","a26","a27","a28","a29","a30","a31","a33","a34","a35","a36","a37","a38","a39"]},{"filter":"isValid(datum.value)"}],
"mark":{"type":"line","strokeWidth":1.2,"clip":true,"strokeJoin":"round"},
"encoding":{
"x":{"field":"f","type":"quantitative","scale":{"domain":[220.3577,220.82],"nice":false,"zero":false},"axis":{"title":"Frequency [GHz]","values":[220.4,220.5,220.6,220.7,220.8],"format":".1f"}},
"y":{"field":"value","type":"quantitative","scale":{"domain":[-10.77,181.14],"nice":false,"zero":false},"axis":{"title":"Brightness [K]","values":[0,25,50,75,100,125,150,175]}},
"color":{"field":"key","type":"nominal","scale":{"domain":["a0","a1","a2","a3","a4","a5","a6","a7","a8","a9","a10","a11","a12","a13","a14","a15","a16","a17","a18","a19","a20","a21","a22","a23","a24","a25","a26","a27","a28","a29","a30","a31","a33","a34","a35","a36","a37","a38","a39"],"range":["#8000ff","#7215ff","#6529fe","#583dfd","#4b51fc","#3e64fa","#3176f8","#2488f5","#1799f2","#0aa9ee","#03b8eb","#10c5e6","#1dd2e2","#2bdddd","#38e6d8","#45eed2","#52f5cc","#5ffac6","#6cfdbf","#79ffb8","#86ffb1","#93fda9","#a0faa1","#adf599","#baee91","#c7e688","#d4dd80","#e2d276","#efc56d","#fcb864","#ffa95a","#ff9951","#ff763d","#ff6433","#ff5129","#ff3d1f","#ff2915","#ff150a","#ff0000"]},"legend":null}}}
]
}
